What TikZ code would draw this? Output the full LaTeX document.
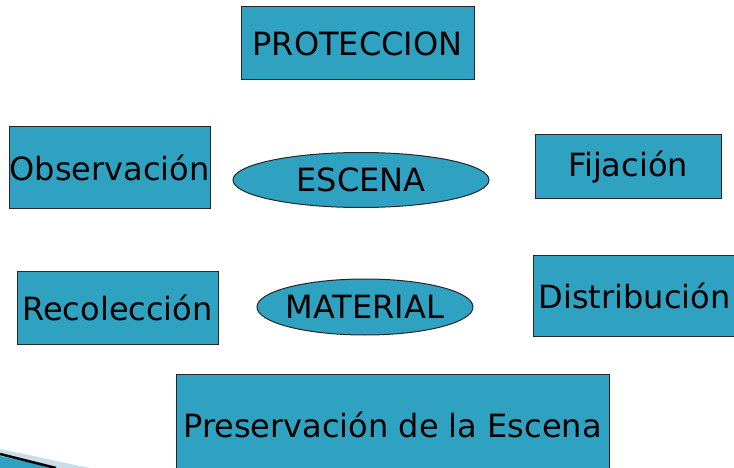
\documentclass[tikz,border=0pt]{standalone}
\usepackage{fontspec}
\setmainfont{DejaVu Sans}
\usepackage{tikz}
\usetikzlibrary{shapes.geometric}

\definecolor{tealbox}{RGB}{46,162,192}
\definecolor{swoosh}{RGB}{200,222,232}

\tikzset{
        stagebox/.style={draw=black!85, line width=1pt, fill=tealbox, inner sep=0pt,
          font=\fontsize{32}{38}\selectfont},
        stageoval/.style={stagebox, ellipse, inner sep=-8pt}
}

\begin{document}
\begin{tikzpicture}[x=1pt, y=-1pt]
        \useasboundingbox (0, 0) rectangle (734, 468);
        \clip (0, 0) rectangle (734, 468);

        % corner decoration
        \fill[swoosh] (0, 449) .. controls (30, 455) and (60, 462) .. (90, 468) -- (0, 468) -- cycle;
        \fill[tealbox] (0, 456) -- (55, 468) -- (0, 468) -- cycle;
        \draw[line width=2.5pt] (0, 454) -- (56, 468);

        \node[stagebox, minimum width=233, minimum height=73] (proteccion) at (357.5, 43.5) {PROTECCION};
        \node[stagebox, minimum width=201, minimum height=81] (observacion) at (109.5, 167.5) {Observación};
        \node[stagebox, minimum width=186, minimum height=64] (fijacion) at (628, 167) {Fijación};
        \node[stagebox, minimum width=201, minimum height=73] (recoleccion) at (117.5, 307.5) {Recolección};
        \node[stagebox, minimum width=203, minimum height=81] (distribucion) at (634.5, 295.5) {Distribución};
        \node[stagebox, minimum width=433, minimum height=102] (preservacion) at (392.5, 425) {Preservación de la Escena};

        \node[stageoval, minimum width=256, minimum height=55] (escena) at (361, 180) {ESCENA};
        \node[stageoval, minimum width=216, minimum height=56] (material) at (365, 307) {MATERIAL};
      \end{tikzpicture}
\end{document}
